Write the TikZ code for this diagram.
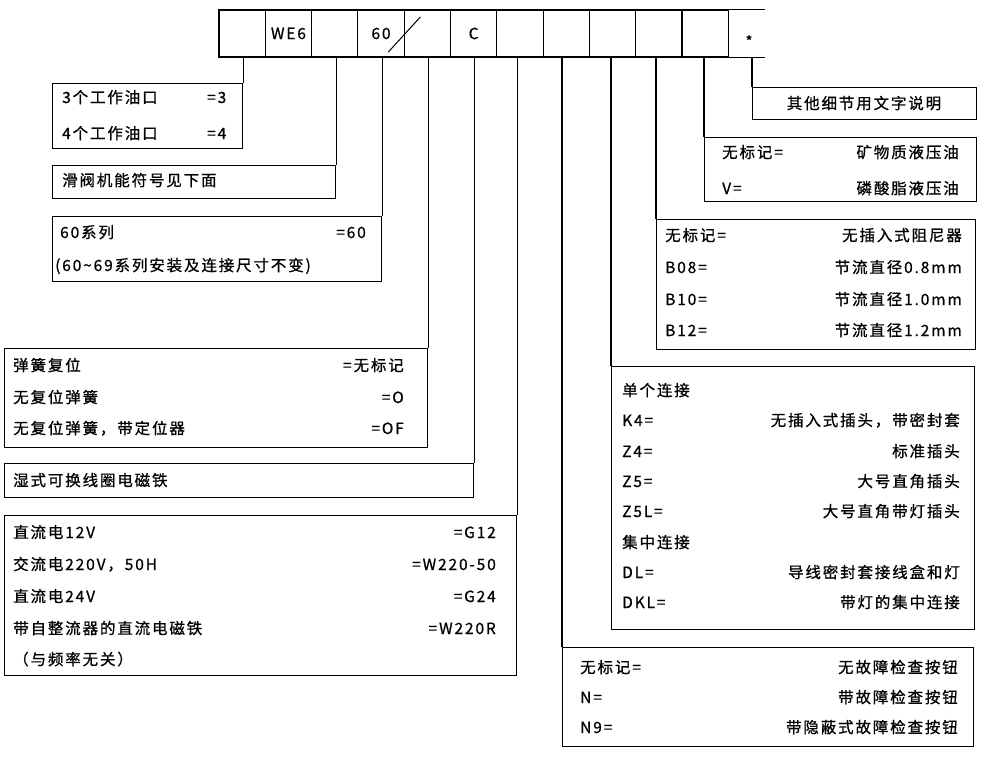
\documentclass[tikz,border=0pt]{standalone}
\usepackage{fontspec}
\setmainfont{Noto Sans CJK SC}[LetterSpace=12, FakeBold=0.8]
\usetikzlibrary{positioning, calc}
\newcommand{\txtfont}{\fontsize{15.5}{18}\selectfont}

\begin{document}
\begin{tikzpicture}[x=1pt, y=-1pt,
    cell/.style={draw, line width=1.1pt, minimum width=46.3pt,
                 minimum height=47pt, inner sep=0pt, font=\txtfont},
    optbox/.style={draw, line width=1.1pt, anchor=north west, inner sep=0pt},
    leader/.style={line width=1.1pt},
    lefttxt/.style={anchor=west, inner sep=0pt, text height=12pt,
                    text depth=0pt, font=\txtfont},
    righttxt/.style={lefttxt, anchor=east},
    midtxt/.style={lefttxt, anchor=center},
]
  \useasboundingbox (0,0) rectangle (981,757);

  % code row
  \foreach \t [count=\i from 0] in {{},WE6,{},60,{},C,{},{},{},{},{}}
    \node[cell] (c\i) at ({242.15+46.3*\i},33.5) {\t};
  \node[cell, draw=none, minimum width=35.7pt] (c11) at (746.4,33.5) {};
  \draw[leader] (c10.north east) -- (c11.north east);
  \draw[leader] (c10.south east) -- (c11.south east);
  \node[font=\fontsize{15}{15}\selectfont, inner sep=0pt] (star) at (749,41) {*};
  \draw[line width=1pt] ($(c4.center)+(-39,18.5)$) -- ($(c4.center)+(-7,-16.5)$);

  % left boxes
  \node[optbox, minimum width=190pt, minimum height=65pt] (ports) at (52,83) {};
  \node[optbox, minimum width=283pt, minimum height=33pt] (spool) at (52,165) {};
  \node[optbox, minimum width=329pt, minimum height=65pt] (series) at (52,216) {};
  \node[optbox, minimum width=423pt, minimum height=99pt] (spring) at (4,348) {};
  \node[optbox, minimum width=469pt, minimum height=34pt] (coil) at (4,463) {};
  \node[optbox, minimum width=512pt, minimum height=160pt] (volt) at (4,515) {};

  % right boxes
  \node[optbox, minimum width=224pt, minimum height=32pt] (note) at (752,87) {};
  \node[optbox, minimum width=272pt, minimum height=64pt] (oil) at (704,137) {};
  \node[optbox, minimum width=319pt, minimum height=130pt] (orifice) at (656,219) {};
  \node[optbox, minimum width=363pt, minimum height=263pt] (plug) at (611,366) {};
  \node[optbox, minimum width=411pt, minimum height=99pt] (button) at (562,647) {};

  % leaders
  \draw[leader] (ports.north east |- c0.south) -- (ports.north east);
  \draw[leader] (spool.north east |- c2.south) -- (spool.north east);
  \draw[leader] (series.north east |- c3.south) -- (series.north east);
  \draw[leader] (spring.north east |- c4.south) -- (spring.north east);
  \draw[leader] (coil.north east |- c5.south) -- (coil.north east);
  \draw[leader] (volt.north east |- c6.south) -- (volt.north east);
  \draw[leader] (button.north west |- c7.south) -- (button.north west);
  \draw[leader] (plug.north west |- c8.south) -- (plug.north west);
  \draw[leader] (orifice.north west |- c9.south) -- (orifice.north west);
  \draw[leader] (oil.north west |- c10.south) -- (oil.north west);
  \draw[leader] (note.north west |- c11.south) -- (note.north west);

  % texts, left side
  \node[lefttxt] (p3) at (62,97) {3个工作油口};
  \node[lefttxt] (p3v) at (207,97) {=3};
  \node[lefttxt] (p4) at (62,133) {4个工作油口};
  \node[lefttxt] (p4v) at (207,133) {=4};
  \node[lefttxt] (sp) at (62,180) {滑阀机能符号见下面};
  \node[lefttxt] (s60) at (60,232) {60系列};
  \node[righttxt] (s60v) at (366,232) {=60};
  \node[lefttxt] (s69) at (55,265) {(60\textasciitilde69系列安装及连接尺寸不变)};
  \node[lefttxt] (r1) at (13,365) {弹簧复位};
  \node[righttxt] (r1v) at (404,365) {=无标记};
  \node[lefttxt] (r2) at (13,397) {无复位弹簧};
  \node[righttxt] (r2v) at (404,397) {=O};
  \node[lefttxt] (r3) at (13,428) {无复位弹簧，带定位器};
  \node[righttxt] (r3v) at (404,428) {=OF};
  \node[lefttxt] (wet) at (13,480) {湿式可换线圈电磁铁};
  \node[lefttxt] (v1) at (13,532) {直流电12V};
  \node[righttxt] (v1v) at (496,532) {=G12};
  \node[lefttxt] (v2) at (13,564) {交流电220V，50H};
  \node[righttxt] (v2v) at (496,564) {=W220-50};
  \node[lefttxt] (v3) at (13,596) {直流电24V};
  \node[righttxt] (v3v) at (496,596) {=G24};
  \node[lefttxt] (v4) at (13,628) {带自整流器的直流电磁铁};
  \node[righttxt] (v4v) at (496,628) {=W220R};
  \node[lefttxt] (v5) at (13,659) {（与频率无关）};

  % texts, right side
  \node[midtxt] (nt) at (864,103) {其他细节用文字说明};
  \node[lefttxt] (o1) at (722,152) {无标记=};
  \node[righttxt] (o1v) at (959,152) {矿物质液压油};
  \node[lefttxt] (o2) at (722,188) {V=};
  \node[righttxt] (o2v) at (959,188) {磷酸脂液压油};
  \node[lefttxt] (b0) at (665,235) {无标记=};
  \node[righttxt] (b0v) at (962,235) {无插入式阻尼器};
  \node[lefttxt] (b1) at (665,267) {B08=};
  \node[righttxt] (b1v) at (962,267) {节流直径0.8mm};
  \node[lefttxt] (b2) at (665,299) {B10=};
  \node[righttxt] (b2v) at (962,299) {节流直径1.0mm};
  \node[lefttxt] (b3) at (665,330) {B12=};
  \node[righttxt] (b3v) at (962,330) {节流直径1.2mm};
  \node[lefttxt] (k0) at (622,390) {单个连接};
  \node[lefttxt] (k1) at (622,420) {K4=};
  \node[righttxt] (k1v) at (960,420) {无插入式插头，带密封套};
  \node[lefttxt] (k2) at (622,451) {Z4=};
  \node[righttxt] (k2v) at (960,451) {标准插头};
  \node[lefttxt] (k3) at (622,481) {Z5=};
  \node[righttxt] (k3v) at (960,481) {大号直角插头};
  \node[lefttxt] (k4) at (622,511) {Z5L=};
  \node[righttxt] (k4v) at (960,511) {大号直角带灯插头};
  \node[lefttxt] (k5) at (622,542) {集中连接};
  \node[lefttxt] (k6) at (622,572) {DL=};
  \node[righttxt] (k6v) at (960,572) {导线密封套接线盒和灯};
  \node[lefttxt] (k7) at (622,602) {DKL=};
  \node[righttxt] (k7v) at (960,602) {带灯的集中连接};
  \node[lefttxt] (n0) at (580,667) {无标记=};
  \node[righttxt] (n0v) at (958,667) {无故障检查按钮};
  \node[lefttxt] (n1) at (580,697) {N=};
  \node[righttxt] (n1v) at (958,697) {带故障检查按钮};
  \node[lefttxt] (n2) at (580,727) {N9=};
  \node[righttxt] (n2v) at (958,727) {带隐蔽式故障检查按钮};
\end{tikzpicture}
\end{document}
